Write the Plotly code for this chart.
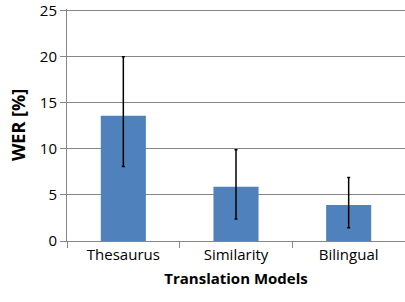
import plotly.graph_objects as go

categories = ["Thesaurus", "Similarity", "Bilingual"]
wer = [13.6, 5.9, 3.9]
err_plus = [6.4, 4.0, 3.0]
err_minus = [5.5, 3.5, 2.45]

fig = go.Figure()
fig.add_trace(go.Bar(
    x=categories, y=wer, width=0.4,
    marker=dict(color="#4F81BD", line=dict(width=0)),
    error_y=dict(type="data", symmetric=False, array=err_plus, arrayminus=err_minus,
                 color="black", thickness=1.5, width=1.5),
))
fig.update_layout(
    width=405, height=302,
    margin=dict(l=67, r=0, t=9, b=61),
    paper_bgcolor="white", plot_bgcolor="white",
    font=dict(family="Open Sans", size=15, color="black"),
    showlegend=False,
    xaxis=dict(
        title=dict(text="<b>Translation Models</b>", font=dict(size=15), standoff=10),
        showline=True, linecolor="#868686", linewidth=1,
        ticks="outside", tickson="boundaries", ticklen=6, tickcolor="#868686",
        showgrid=False, automargin=False,
    ),
    yaxis=dict(
        title=dict(text="<b>WER [%]</b>", font=dict(size=18), standoff=9),
        range=[0, 25.2], tickmode="linear", tick0=0, dtick=5,
        showline=True, linecolor="#868686", linewidth=1,
        ticks="outside", ticklen=6, tickcolor="#868686",
        gridcolor="#868686", gridwidth=1, zeroline=False, automargin=False,
    ),
)
fig.write_html("out.html", config={"displayModeBar": False},
               post_script="document.body.style.margin='0';")
